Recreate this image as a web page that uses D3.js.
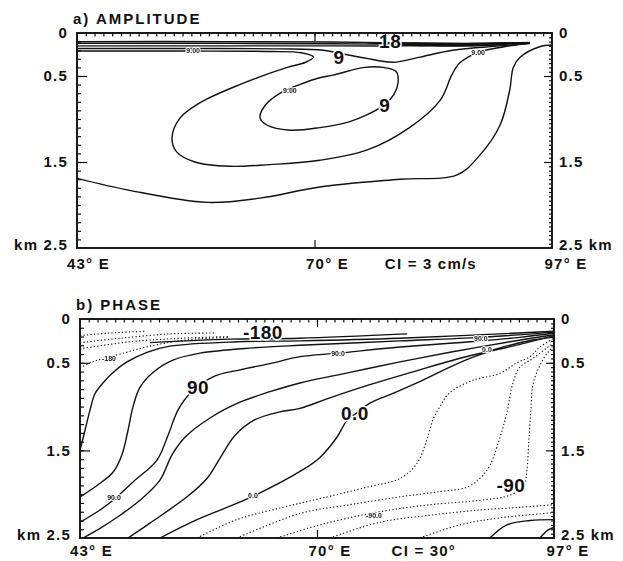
<!DOCTYPE html>
<html>
<head>
<meta charset="utf-8">
<script src="https://cdn.jsdelivr.net/npm/d3@7"></script>
<style>
body{margin:0;background:#fff}
text{font-family:"Liberation Sans",Arial,sans-serif;font-weight:bold;fill:#111}
</style>
</head>
<body>
<div id="chart"></div>
<script>
// axis values
var lonDomain = [43, 97];
var depthDomain = [0, 2.5];
var leftDepthLabels = [[0,'0'],[0.5,'0.5'],[1.5,'1.5'],[2.5,'km 2.5']];
var rightDepthLabels = [[0,'0'],[0.5,'0.5'],[1.5,'1.5'],[2.5,'2.5 km']];
var lonLabels = [[43,'43° E'],[70,'70° E'],[97,'97° E']];

// a) amplitude contours, [lon, depth km]
var amp3 = [[43,1.69],[49,1.83],[57.8,1.97],[63.8,1.92],[70.6,1.79],[79.7,1.70],[86.2,1.65],[88.8,1.42],[91.1,1.07],[92.2,0.66],[92.6,0.40],[93.4,0.28],[95.6,0.16],[97,0.14]];
var amp6 = [[43,0.21],[55,0.21],[65,0.215],[68.5,0.23],[69.9,0.28],[69,0.34],[66.9,0.40],[61.5,0.60],[57,0.81],[54.7,0.99],[53.8,1.22],[54.3,1.38],[56.4,1.50],[60.4,1.55],[64.9,1.53],[70.6,1.48],[76,1.36],[80.8,1.10],[84.3,0.78],[85.6,0.49],[86.5,0.35],[88.5,0.23],[92.2,0.15],[94.5,0.12]];
var amp9core = [[70.6,0.52],[68.3,0.60],[66.1,0.70],[64.4,0.84],[63.8,0.98],[64.6,1.07],[67.2,1.13],[70.6,1.10],[74.0,1.03],[76.0,0.95],[78.0,0.83],[79.0,0.72],[79.5,0.58],[79.3,0.45],[77.8,0.40],[75.7,0.40],[72.1,0.49]];
var amp9 = [[43,0.18],[57,0.18],[66,0.185],[71,0.20],[73,0.24],[75.7,0.29],[78.9,0.34],[82,0.28],[85.7,0.20],[91.1,0.15],[94.5,0.12]];
var amp12 = [[43,0.15],[60,0.15],[72,0.15],[80,0.15],[88,0.135],[94.5,0.115]];
var amp15 = [[43,0.12],[60,0.12],[72,0.125],[80,0.13],[88,0.125],[94.5,0.11]];
var amp18 = [[43,0.10],[60,0.10],[72,0.105],[80,0.115],[88,0.12],[94.5,0.11]];
var amp21 = [[76,0.115],[82,0.14],[88,0.145],[93,0.12],[88,0.125],[82,0.12],[76,0.115]];
var amp24 = [[78,0.125],[83,0.15],[88,0.15],[92,0.13],[88,0.135],[83,0.135],[78,0.125]];
var ampBig = [['18',78.6,0.09],['9',72.8,0.28],['9',78.0,0.84]];
var ampSmall = [['9.00',56.2,0.20],['9.00',67.2,0.67],['9.00',88.6,0.23]];

// b) phase contours, [lon, depth km]; solid >= 0, dotted < 0
var ph180 = [[50.97,0.27],[60.08,0.23],[68.06,0.22],[80.24,0.17]];
var ph150 = [[43,1.50],[43.57,1.27],[44.14,1.04],[44.71,0.85],[45.62,0.73],[46.76,0.61],[48.35,0.49],[50.63,0.38],[53.25,0.31],[60.88,0.26],[68.06,0.25],[79.45,0.22],[97,0.14]];
var ph120 = [[43,2.03],[44.94,1.90],[46.76,1.75],[47.78,1.55],[48.47,1.27],[49.04,1.00],[49.83,0.78],[51.31,0.61],[53.59,0.47],[56.67,0.39],[62.70,0.33],[68.06,0.30],[79.45,0.25],[88.56,0.21],[97,0.15]];
var ph90 = [[43,2.32],[45.28,2.18],[46.76,2.07],[49.04,1.86],[51.77,1.61],[53.02,1.33],[54.16,1.04],[55.53,0.85],[58.15,0.66],[61.22,0.58],[64.64,0.51],[68.06,0.43],[72.39,0.39],[79.45,0.32],[87.42,0.26],[93.11,0.21],[97,0.16]];
var ph60 = [[43.34,2.50],[45.28,2.39],[47.56,2.24],[49.83,2.07],[52.11,1.84],[53.48,1.55],[54.96,1.35],[57.81,1.13],[61.22,0.95],[64.64,0.83],[68.06,0.73],[73.75,0.61],[79.45,0.49],[85.14,0.38],[91.98,0.26],[97,0.18]];
var ph30 = [[48.47,2.50],[50.97,2.33],[55.19,2.03],[57.46,1.82],[58.94,1.59],[60.65,1.33],[62.93,1.15],[65.77,1.06],[68.06,1.02],[71.47,0.90],[76.02,0.75],[81.71,0.58],[87.42,0.42],[93.11,0.29],[97,0.19]];
var ph0 = [[52.11,2.50],[56.33,2.29],[62.36,2.04],[68.40,1.72],[70.34,1.58],[72.27,1.35],[73.41,1.16],[74.55,1.07],[76.03,0.96],[78.65,0.85],[81.38,0.73],[85.14,0.55],[87.42,0.45],[89.36,0.38],[90.84,0.33],[94.60,0.24],[97,0.21]];
var ph180b = [[89.70,2.5],[91.63,2.35],[94.25,2.30],[97,2.29]];
var ph150b = [[95.39,2.5],[96.30,2.41],[97,2.38]];
var phM30 = [[56.33,2.50],[60.88,2.29],[66.12,2.15],[70.34,2.05],[75.69,1.92],[79.45,1.82],[81.38,1.65],[82.52,1.38],[83.21,1.15],[84.00,1.00],[85.14,0.84],[87.76,0.70],[90.84,0.62],[92.77,0.50],[94.25,0.43],[95.39,0.32],[97,0.22]];
var phM60 = [[60.88,2.50],[68.06,2.22],[73.75,2.12],[79.45,2.03],[84.00,1.97],[87.08,1.92],[88.56,1.82],[89.70,1.67],[90.84,1.35],[91.63,1.07],[92.32,0.73],[93.11,0.55],[94.59,0.45],[96.19,0.33],[97,0.27]];
var phM90 = [[65.43,2.50],[70.34,2.35],[76.60,2.21],[82.86,2.12],[88.56,2.07],[91.98,2.01],[93.57,1.90],[93.91,1.73],[94.14,1.38],[94.37,1.04],[94.60,0.75],[95.39,0.53],[96.30,0.38],[97,0.31]];
var phM120 = [[71.47,2.50],[77.16,2.32],[82.86,2.24],[88.56,2.18],[93.11,2.15],[97,2.12]];
var phM150 = [[81.72,2.50],[86.28,2.35],[90.84,2.27],[97,2.21]];
var phTop1 = [[43,0.19],[46.42,0.16],[50.40,0.14]];
var phTop2 = [[43,0.27],[47.56,0.22],[53.25,0.17],[58.38,0.16]];
var phTop3 = [[43,0.34],[48.69,0.26],[54.39,0.22],[60.08,0.20]];
var phTop4 = [[43,0.56],[44.37,0.49],[45.73,0.45],[47.56,0.40],[50.97,0.31],[54.96,0.24],[60.08,0.21]];
var phBig = [['-180',63.84,0.15],['90',56.44,0.78],['0.0',74.32,1.07],['-90',92.09,1.90]];
var phSmall = [['-180',46.3,0.45],['90.0',46.87,2.04],['0.0',62.7,2.02],['90.0',72.39,0.39],['90.0',88.67,0.22],['0.0',89.36,0.35],['-90.0',76.49,2.24]];

var svg = d3.select('#chart').append('svg')
    .attr('width', 623)
    .attr('height', 561);

function panel(id, box, title, ci, ciLon, solid, dotted, closed, big, small){
    var x = d3.scaleLinear().domain(lonDomain).range([box.l, box.r]);
    var y = d3.scaleLinear().domain(depthDomain).range([box.t, box.b]);
    var g = svg.append('g');

    g.append('clipPath').attr('id', id)
        .append('rect')
        .attr('x', box.l).attr('y', box.t)
        .attr('width', box.r - box.l).attr('height', box.b - box.t);

    var line = d3.line()
        .x(function(d){return x(d[0])})
        .y(function(d){return y(d[1])})
        .curve(d3.curveCatmullRom.alpha(0.5));
    var loop = d3.line()
        .x(function(d){return x(d[0])})
        .y(function(d){return y(d[1])})
        .curve(d3.curveCatmullRomClosed.alpha(0.5));

    var c = g.append('g').attr('clip-path', 'url(#' + id + ')');
    c.selectAll('.solid').data(solid).enter().append('path')
        .attr('class','solid')
        .attr('d', line)
        .style('fill','none').style('stroke','#111').style('stroke-width','1.4px');
    c.selectAll('.loop').data(closed).enter().append('path')
        .attr('class','loop')
        .attr('d', loop)
        .style('fill','none').style('stroke','#111').style('stroke-width','1.4px');
    c.selectAll('.dot').data(dotted).enter().append('path')
        .attr('class','dot')
        .attr('d', line)
        .style('fill','none').style('stroke','#111').style('stroke-width','1.1px')
        .style('stroke-dasharray','1.3,2.2');

    // contour labels, white halo cuts the line
    g.selectAll('.big').data(big).enter().append('text')
        .attr('x', function(d){return x(d[1])})
        .attr('y', function(d){return y(d[2])})
        .attr('text-anchor','middle').attr('dy','0.36em')
        .style('font-size','19px').style('letter-spacing','0.5px')
        .style('stroke','#fff').style('stroke-width','3px').style('paint-order','stroke')
        .text(function(d){return d[0]});
    g.append('g').style('filter', 'grayscale(1)')
        .selectAll('.small').data(small).enter().append('text')
        .attr('x', function(d){return x(d[1])})
        .attr('y', function(d){return y(d[2])})
        .attr('text-anchor','middle').attr('dy','0.36em')
        .style('font-size','7px')
        .style('stroke','#fff').style('stroke-width','2px').style('paint-order','stroke')
        .text(function(d){return d[0]});

    // ticks, all pointing inward
    function ax(axis, tr, vals, size){
        var a = g.append('g').attr('transform', tr)
            .call(axis.tickValues(vals).tickSize(size).tickFormat(''));
        a.select('.domain').remove();
        a.selectAll('line').style('stroke','#111').style('stroke-width','1.2px');
    }
    ax(d3.axisTop(x), 'translate(0,' + box.t + ')', d3.range(44, 97), -3.5);
    ax(d3.axisTop(x), 'translate(0,' + box.t + ')', [70], -8);
    ax(d3.axisBottom(x), 'translate(0,' + box.b + ')', [70], -8);
    ax(d3.axisLeft(y), 'translate(' + box.l + ',0)', d3.range(1, 25).map(function(i){return i/10}), -4);
    ax(d3.axisLeft(y), 'translate(' + box.l + ',0)', [0.5, 1.5], -10);
    ax(d3.axisRight(y), 'translate(' + box.r + ',0)', d3.range(1, 50).map(function(i){return i/20}), -3);
    ax(d3.axisRight(y), 'translate(' + box.r + ',0)', [0.5, 1.5], -8);

    g.append('rect')
        .attr('x', box.l).attr('y', box.t)
        .attr('width', box.r - box.l).attr('height', box.b - box.t)
        .style('fill','none').style('stroke','#111').style('stroke-width','1.9px');

    // labels
    g.append('text').attr('x', box.l - 4).attr('y', box.t - 9)
        .style('font-size','15px').style('letter-spacing','2px')
        .text(title);
    g.selectAll('.yl').data(leftDepthLabels).enter().append('text')
        .attr('x', box.l - 9).attr('y', function(d){return y(d[0])})
        .attr('dy', function(d){return d[0] == 2.5 ? '0.1em' : '0.36em'})
        .attr('text-anchor','end')
        .style('font-size','15px').style('letter-spacing','1.2px')
        .text(function(d){return d[1]});
    g.selectAll('.yr').data(rightDepthLabels).enter().append('text')
        .attr('x', box.r + 7).attr('y', function(d){return y(d[0])})
        .attr('dy', function(d){return d[0] == 2.5 ? '0.1em' : '0.36em'})
        .style('font-size','15px').style('letter-spacing','1.2px')
        .text(function(d){return d[1]});
    g.selectAll('.xl').data(lonLabels).enter().append('text')
        .attr('x', function(d){return x(d[0])}).attr('y', box.b + box.lab)
        .attr('text-anchor', function(d){return d[0] == 43 ? 'start' : 'middle'})
        .attr('dx', function(d){return d[0] == 43 ? -10 : (d[0] == 97 ? 14 : 13)})
        .style('font-size','15px').style('letter-spacing','1.2px')
        .text(function(d){return d[1]});
    g.append('text').attr('x', x(ciLon)).attr('y', box.b + box.lab)
        .style('font-size','15px').style('letter-spacing','1.2px')
        .text(ci);
}

panel('clipA', {l:77, r:552, t:33, b:248, lab:21}, 'a)  AMPLITUDE', 'CI = 3 cm/s', 78.0,
    [amp3, amp6, amp9, amp12, amp15, amp18, amp21, amp24], [], [amp9core], ampBig, ampSmall);
panel('clipB', {l:80, r:554, t:319, b:538, lab:18}, 'b)  PHASE', 'CI = 30°', 78.5,
    [ph180, ph150, ph120, ph90, ph60, ph30, ph0, ph180b, ph150b],
    [phM30, phM60, phM90, phM120, phM150, phTop1, phTop2, phTop3, phTop4], [], phBig, phSmall);
</script>
</body>
</html>
